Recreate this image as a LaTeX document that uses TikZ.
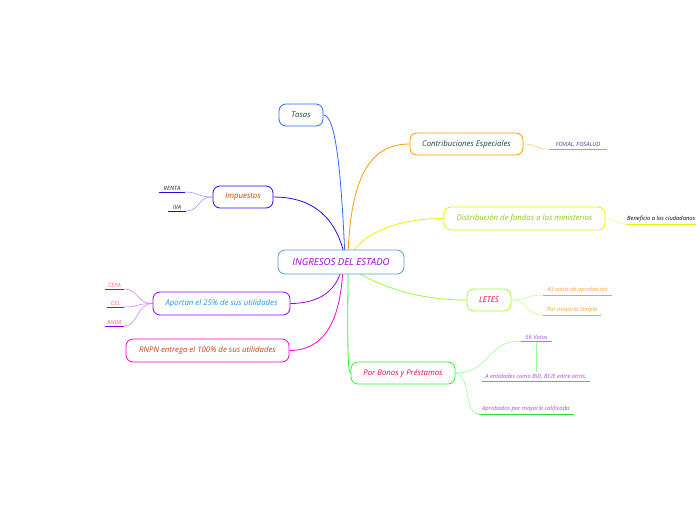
\documentclass[tikz,border=0pt]{standalone}
\usepackage{fontspec}
\setmainfont{Open Sans}
\usetikzlibrary{backgrounds,calc}
\definecolor{cBorder}{HTML}{5599DD}
\definecolor{cPurpleT}{HTML}{9900DD}
\definecolor{cTasas}{HTML}{3366FF}
\definecolor{cImp}{HTML}{3300EE}
\definecolor{cImpL}{HTML}{9F99FF}
\definecolor{cApo}{HTML}{9900EE}
\definecolor{cApoL}{HTML}{CC88FF}
\definecolor{cRnpn}{HTML}{FF00CC}
\definecolor{cCon}{HTML}{FF9900}
\definecolor{cConL}{HTML}{FFCC88}
\definecolor{cDis}{HTML}{EEEE00}
\definecolor{cDisL}{HTML}{F5F588}
\definecolor{cLet}{HTML}{99FF33}
\definecolor{cLetU}{HTML}{77EE00}
\definecolor{cLetL}{HTML}{C8FF99}
\definecolor{cBon}{HTML}{33EE33}
\definecolor{cBonU}{HTML}{33DD33}
\definecolor{cBonL}{HTML}{99FF99}
\definecolor{tDark}{HTML}{14463A}
\definecolor{tOrange}{HTML}{CC4400}
\definecolor{tNavy}{HTML}{1A1A40}
\definecolor{tCyan}{HTML}{1199DD}
\definecolor{tPink}{HTML}{FF6680}
\definecolor{tBrown}{HTML}{BB4411}
\definecolor{tFov}{HTML}{4433AA}
\definecolor{tYG}{HTML}{88CC00}
\definecolor{tCrim}{HTML}{E6004C}
\definecolor{tLOr}{HTML}{F5A030}
\definecolor{tPur}{HTML}{AA44DD}
\tikzset{
  mainbox/.style={draw, rounded corners=7pt, line width=0.8pt, fill=white, inner sep=0pt,
    minimum height=22pt, font=\fontsize{7.8}{9}\selectfont\itshape},
  leaf/.style={inner xsep=0pt, inner ysep=1.6pt, anchor=south, font=\fontsize{5.8}{7}\selectfont\itshape},
  uline/.style={line width=1pt},
  conn/.style={line width=0.8pt},
  lconn/.style={line width=0.6pt}
}
\begin{document}
\begin{tikzpicture}[x=1pt,y=-1pt]
\useasboundingbox (0,0) rectangle (696,520);
% central
\node[mainbox, draw=cBorder, text=cPurpleT, minimum width=126pt, minimum height=24pt,
  font=\fontsize{9.6}{11}\selectfont\itshape] (c) at (341,262) {INGRESOS DEL ESTADO};
% main nodes
\node[mainbox, draw=cTasas, text=tDark, minimum width=44pt] (tas) at (301,115) {Tasas};
\node[mainbox, draw=cImp, text=tOrange, minimum width=60pt] (imp) at (243,197) {Impuestos};
\node[mainbox, draw=cApo, text=tCyan, minimum width=137pt, minimum height=23pt] (apo) at (221.5,303.5) {Aportan el 25\% de sus utilidades};
\node[mainbox, draw=cRnpn, text=tBrown, minimum width=163pt, minimum height=23pt] (rnpn) at (207.5,350.5) {RNPN entrega el 100\% de sus utilidades};
\node[mainbox, draw=cCon, text=tDark, minimum width=113pt] (con) at (466.5,144) {Contribuciones Especiales};
\node[mainbox, draw=cDis, text=tYG, minimum width=161pt, minimum height=23pt] (dis) at (524.5,218.5) {Distribución de fondos a los ministerios};
\node[mainbox, draw=cLet, text=tCrim, minimum width=44pt] (let) at (489,300) {LETES};
\node[mainbox, draw=cBon, text=tCrim, minimum width=104pt] (bon) at (403,373) {Por Bonos y Préstamos};
% leaves
\node[leaf, text=tNavy, minimum width=26pt] (renta) at (172,192) {RENTA};
\node[leaf, text=tNavy, minimum width=18pt] (iva) at (177,211) {IVA};
\node[leaf, text=tPink, minimum width=19pt] (cepa) at (114.5,289) {CEPA};
\node[leaf, text=tPink, minimum width=17pt] (cel) at (115.5,307) {CEL};
\node[leaf, text=tPink, minimum width=19pt] (anda) at (114.5,326) {ANDA};
\node[leaf, text=tFov, minimum width=58pt] (fov) at (578,149) {FOVIAL, FOSALUD};
\node[leaf, text=black, minimum width=70pt, anchor=south west] (ben) at (626,224) {Beneficio a los ciudadanos};
\node[leaf, text=tLOr, minimum width=69pt] (v43) at (577.5,295) {43 votos de aprobación};
\node[leaf, text=tLOr, minimum width=58pt] (pms) at (572,315) {Por mayoría Simple};
\node[leaf, text=tPur, minimum width=31pt] (v56) at (536.5,341) {56 Votos};
\node[leaf, text=tPur, minimum width=108pt] (ent) at (536,381) {A entidades como BID, BCIE entre otros.};
\node[leaf, text=tPur, minimum width=95pt] (apr) at (526.5,414) {Aprobados por mayoría calificada.};
% underlines
\draw[uline, cImp] (renta.south west) -- (renta.south east);
\draw[uline, cImp] (iva.south west) -- (iva.south east);
\draw[uline, cApo] (cepa.south west) -- (cepa.south east);
\draw[uline, cApo] (cel.south west) -- (cel.south east);
\draw[uline, cApo] (anda.south west) -- (anda.south east);
\draw[uline, cCon] (fov.south west) -- (fov.south east);
\draw[uline, cDis] (ben.south west) -- (ben.south east);
\draw[uline, cLetU] (v43.south west) -- (v43.south east);
\draw[uline, cLetU] (pms.south west) -- (pms.south east);
\draw[uline, cBonU] (v56.south west) -- (v56.south east);
\draw[uline, cBonU] (ent.south west) -- (ent.south east);
\draw[uline, cBonU] (apr.south west) -- (apr.south east);
\begin{scope}[on background layer]
% main connectors
\draw[conn, cTasas] (tas.east) .. controls +(12,0) and +(-4,-90) .. ($(c.center)+(4,-4)$);
\draw[conn, cImp] (imp.east) .. controls +(40,0) and +(-8,-40) .. ($(c.center)+(4,-4)$);
\draw[conn, cCon] (con.west) .. controls +(-40,0) and +(2,-80) .. ($(c.center)+(7,-4)$);
\draw[conn, cDis] (dis.west) .. controls +(-55,0) and +(10,-20) .. ($(c.center)+(8,-4)$);
\draw[conn, cApo] (apo.east) .. controls +(28,0) and +(-4,25) .. ($(c.center)+(1,4)$);
\draw[conn, cRnpn] (rnpn.east) .. controls +(35,0) and +(-2,55) .. ($(c.center)+(2,4)$);
\draw[conn, cLet] (let.west) .. controls +(-50,0) and +(30,20) .. ($(c.center)+(6,4)$);
\draw[conn, cBon] (bon.west) .. controls +(-4,0) and +(0,50) .. ($(c.center)+(7,4)$);
% leaf connectors
\draw[lconn, cImpL] (imp.west) .. controls +(-16,0) and +(14,0) .. (renta.south east);
\draw[lconn, cImpL] (imp.west) .. controls +(-16,0) and +(14,0) .. (iva.south east);
\draw[lconn, cApoL] (apo.west) .. controls +(-16,0) and +(14,0) .. (cepa.south east);
\draw[lconn, cApoL] (apo.west) .. controls +(-16,0) and +(14,0) .. (cel.south east);
\draw[lconn, cApoL] (apo.west) .. controls +(-16,0) and +(14,0) .. (anda.south east);
\draw[lconn, cConL] (con.east) .. controls +(14,0) and +(-14,0) .. (fov.south west);
\draw[lconn, cDisL] (dis.east) .. controls +(12,0) and +(-12,0) .. (ben.south west);
\draw[lconn, cLetL] (let.east) .. controls +(18,0) and +(-18,0) .. (v43.south west);
\draw[lconn, cLetL] (let.east) .. controls +(18,0) and +(-18,0) .. (pms.south west);
\draw[lconn, cBonL] (bon.east) .. controls +(35,0) and +(-35,0) .. (v56.south west);
\draw[lconn, cBonL] (bon.east) .. controls +(15,0) and +(-15,0) .. (apr.south west);
\draw[lconn, cBonL] (v56.south) -- (v56.south |- ent.north);
\end{scope}
\end{tikzpicture}
\end{document}
